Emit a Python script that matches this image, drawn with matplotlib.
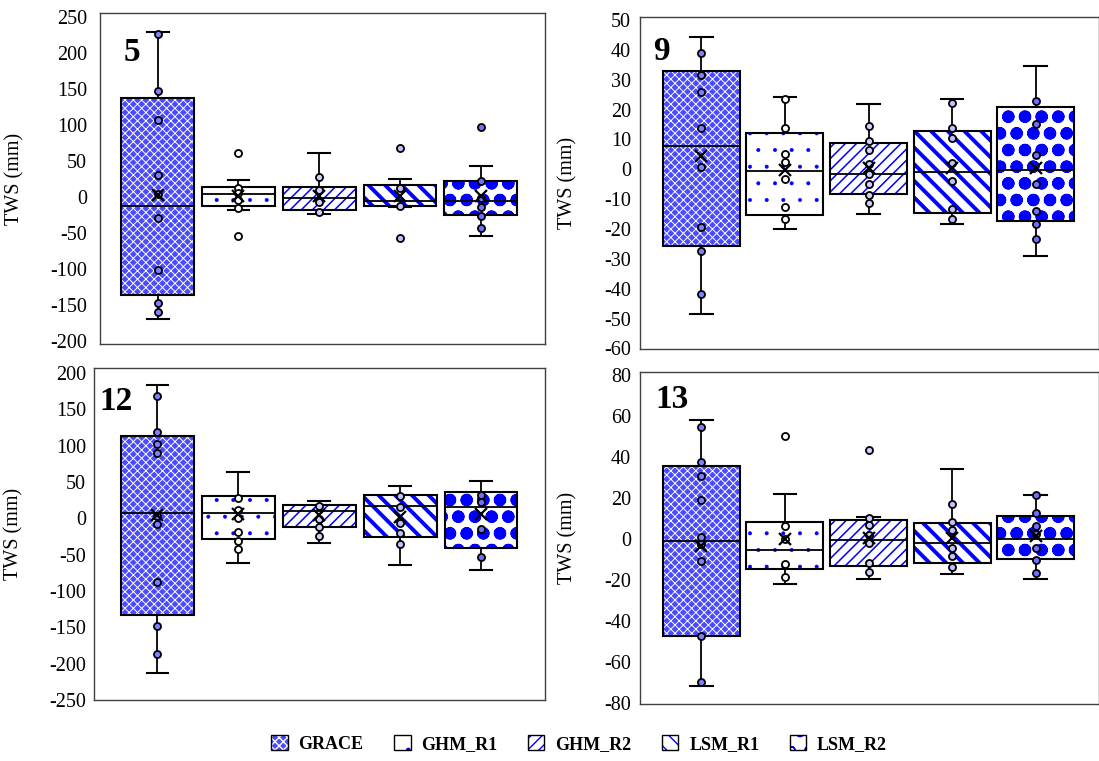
import matplotlib
matplotlib.use("Agg")
import matplotlib.pyplot as plt
from matplotlib.patches import Patch
from matplotlib.legend_handler import HandlerTuple

plt.rcParams["font.family"] = ["Liberation Serif", "DejaVu Serif"]

SERIES = ["GRACE", "GHM_R1", "GHM_R2", "LSM_R1", "LSM_R2"]

# ---------------- Panel 5 ----------------
P5_LOW = [-170, -18, -24, -15, -54]
P5_Q1 = [-136, -13.5, -18, -13.5, -25]
P5_MED = [-13.5, 3, -2.4, -5.7, -6]
P5_Q3 = [137, 13.7, 13.2, 16, 21.5]
P5_HIGH = [228, 23.4, 60, 24.3, 42]
P5_MEAN = [2, 1.2, 1, 1, 1]
P5_POINTS = [
    [226, 147, 106, 30, 3, -29, -102, -148, -160],
    [60, 11.4, 4.9, -5, -16, -54],
    [27.5, 9.5, -7, -21],
    [67, 11.4, -13.5, -57],
    [97, 21.5, -2.4, -15, -26.5, -43],
]

# ---------------- Panel 9 ----------------
P9_LOW = [-48.5, -20.1, -15.1, -18.3, -29.2]
P9_Q1 = [-25.6, -15.4, -8.3, -14.5, -17.2]
P9_MED = [7.8, -0.5, -1.7, -1, -0.2]
P9_Q3 = [32.8, 12.0, 8.7, 12.9, 21]
P9_HIGH = [44.2, 24.1, 21.9, 23.5, 34.5]
P9_MEAN = [4.4, -0.3, 0.3, 0.3, 0.3]
P9_POINTS = [
    [39.1, 31.7, 25.8, 13.9, 0.9, -19.5, -27.4, -41.8],
    [23.4, 13.8, 5.2, 2.4, -3.4, -12.8, -16.7],
    [14.4, 9.5, 6.3, 1.6, -1.5, -4.9, -8.5, -11.4],
    [22.3, 13.7, 10.5, 2, -4, -13.2, -16.6],
    [23, 15.3, 4.7, -5, -14.1, -18.3, -23.3],
]

# ---------------- Panel 12 ----------------
P12_LOW = [-213, -61.3, -33.7, -64.6, -70.5]
P12_Q1 = [-133, -28.2, -12.1, -25.4, -40.2]
P12_MED = [6.8, 7.2, 10.4, 16.4, 16]
P12_Q3 = [114, 31.1, 18.3, 32, 36.2]
P12_HIGH = [183, 63.3, 23.3, 44, 51.8]
P12_MEAN = [4.5, 5.8, 4.5, 2.2, 5.8]
P12_POINTS = [
    [168.7, 119, 102.5, 89.6, 3, -8, -88, -148, -186],
    [28.4, 11.4, 0.3, -18.1, -31, -41.6],
    [16.9, -1.5, -11.6, -24],
    [30.7, 15, -7, -20.4, -34.7],
    [32.5, 22, -14, -53],
]

# ---------------- Panel 13 ----------------
P13_LOW = [-71.4, -22, -19.2, -17.1, -19.2]
P13_Q1 = [-46.9, -14.3, -13.2, -11.7, -9.6]
P13_MED = [-1, -5, -0.2, -1.8, 0.2]
P13_Q3 = [36, 8.6, 9.5, 8.1, 11.2]
P13_HIGH = [58, 22.3, 10.8, 34.5, 21.7]
P13_MEAN = [-3.4, 0.2, 0.5, 0.7, 1.5]
P13_POINTS = [
    [54.7, 37.8, 31.1, 19.1, 1.1, -2.1, -10.8, -47.1, -69.6],
    [50.3, 6.4, 0.2, -12, -18.4],
    [43.5, 10.4, 6.8, 1.9, -1.8, -11.7, -15.8],
    [17.4, 8.5, 4.4, -4.1, -8.3, -13.5],
    [21.7, 12.9, 6.4, 2.4, -4.4, -10.1, -16.5],
]

P5_TICKS = list(range(-200, 251, 50))
P9_TICKS = list(range(-60, 51, 10))
P12_TICKS = list(range(-250, 201, 50))
P13_TICKS = list(range(-80, 81, 20))

# styles (hatch patterns)
STYLES = [
    dict(face="#4a4aff", hcolor="white", hatch="xxxx", hlw=0.7),
    dict(face="white", hcolor="#0000ff", hatch=".", hlw=0.4),
    dict(face="white", hcolor="#0000ff", hatch="///", hlw=1.1),
    dict(face="white", hcolor="#0000ff", hatch="\\\\", hlw=2.8),
    dict(face="white", hcolor="#0000ff", hatch="o", hlw=4.2),
]
POINT_FACE = ["#8080ff", "white", "#d0d0ff", "#c0c0ff", "#7070ff"]


def hatched_patch_kwargs(st):
    return dict(facecolor=st["face"], edgecolor=st["hcolor"], hatch=st["hatch"], linewidth=0)


fig = plt.figure(figsize=(10.99, 7.61), dpi=100)
W, H = 1099.0, 761.0


def axes_px(l, t, r, b):
    return fig.add_axes([l / W, 1 - b / H, (r - l) / W, (b - t) / H])


panels = [
    dict(label="5", rect=(100, 13, 545, 344), xlim=(-0.714, 4.796), ylim=(-204.6, 255), ticks=P5_TICKS,
         data=(P5_LOW, P5_Q1, P5_MED, P5_Q3, P5_HIGH, P5_MEAN, P5_POINTS), width=0.9,
         pad=9.4, ylab_x=-0.169, txt=(0.052, 0.88)),
    dict(label="9", rect=(640, 17, 1098.5, 349), xlim=(-0.733, 4.75), ylim=(-60.2, 51), ticks=P9_TICKS,
         data=(P9_LOW, P9_Q1, P9_MED, P9_Q3, P9_HIGH, P9_MEAN, P9_POINTS), width=0.92,
         pad=6.5, ylab_x=-0.1365, txt=(0.028, 0.895)),
    dict(label="12", rect=(94, 368, 545, 700), xlim=(-0.784, 4.79), ylim=(-250, 207), ticks=P12_TICKS,
         data=(P12_LOW, P12_Q1, P12_MED, P12_Q3, P12_HIGH, P12_MEAN, P12_POINTS), width=0.9,
         pad=5.8, ylab_x=-0.156, txt=(0.013, 0.9)),
    dict(label="13", rect=(640, 372, 1098.5, 704), xlim=(-0.733, 4.75), ylim=(-80.3, 81.6), ticks=P13_TICKS,
         data=(P13_LOW, P13_Q1, P13_MED, P13_Q3, P13_HIGH, P13_MEAN, P13_POINTS), width=0.92,
         pad=6.5, ylab_x=-0.1365, txt=(0.033, 0.916)),
]

for p in panels:
    ax = axes_px(*p["rect"])
    low, q1, med, q3, high, mean, points = p["data"]
    pos = list(range(len(SERIES)))
    # hatched box fills
    for i, st in enumerate(STYLES):
        with plt.rc_context({"hatch.linewidth": st["hlw"]}):
            bars = ax.bar([pos[i]], [q3[i] - q1[i]], bottom=[q1[i]], width=p["width"],
                          zorder=1, **hatched_patch_kwargs(st))
        for b in bars:
            if hasattr(b, "set_hatch_linewidth"):
                b.set_hatch_linewidth(st["hlw"])
    stats = [dict(med=med[i], q1=q1[i], q3=q3[i], whislo=low[i], whishi=high[i], mean=mean[i])
             for i in range(len(SERIES))]
    ax.bxp(stats, positions=pos, widths=p["width"], patch_artist=True, showmeans=True,
           showfliers=False, manage_ticks=False, capwidths=0.27,
           boxprops=dict(facecolor="none", edgecolor="black", linewidth=1.5),
           medianprops=dict(color="black", linewidth=1.3),
           whiskerprops=dict(color="black", linewidth=1.3),
           capprops=dict(color="black", linewidth=1.5),
           meanprops=dict(marker="x", markeredgecolor="black", markersize=9,
                          markeredgewidth=1.6, zorder=6))
    for i, pts in enumerate(points):
        ax.scatter([pos[i]] * len(pts), pts, s=26, facecolor=POINT_FACE[i],
                   edgecolor="black", linewidth=1.3, zorder=5)
    ax.set_xlim(*p["xlim"])
    ax.set_ylim(*p["ylim"])
    ax.set_yticks(p["ticks"])
    ax.set_yticklabels([str(t) for t in p["ticks"]])
    ax.set_xticks([])
    ax.tick_params(axis="y", length=0, pad=p["pad"], labelsize=14.5)
    for s in ax.spines.values():
        s.set_color("#404040")
        s.set_linewidth(1.0)
    ax.set_ylabel("TWS (mm)", fontsize=14.5)
    ax.yaxis.set_label_coords(p["ylab_x"], 0.5)
    ax.text(p["txt"][0], p["txt"][1], p["label"], transform=ax.transAxes, fontsize=24,
            fontweight="bold", ha="left", va="center")

handles = []
for st in STYLES:
    with plt.rc_context({"hatch.linewidth": min(st["hlw"], 2.2)}):
        h1 = Patch(**hatched_patch_kwargs(st))
    h2 = Patch(facecolor="none", edgecolor="black", linewidth=1.0)
    handles.append((h1, h2))

fig.legend(handles, SERIES, handler_map={tuple: HandlerTuple(ndivide=1)},
           loc="center", bbox_to_anchor=(0.527, 1 - 744 / H), ncol=5, frameon=False,
           prop=dict(family="Liberation Serif", weight="bold", size=13),
           handlelength=0.9, handleheight=0.9, handletextpad=0.6, columnspacing=1.7)

fig.savefig("out.png", dpi=100)
